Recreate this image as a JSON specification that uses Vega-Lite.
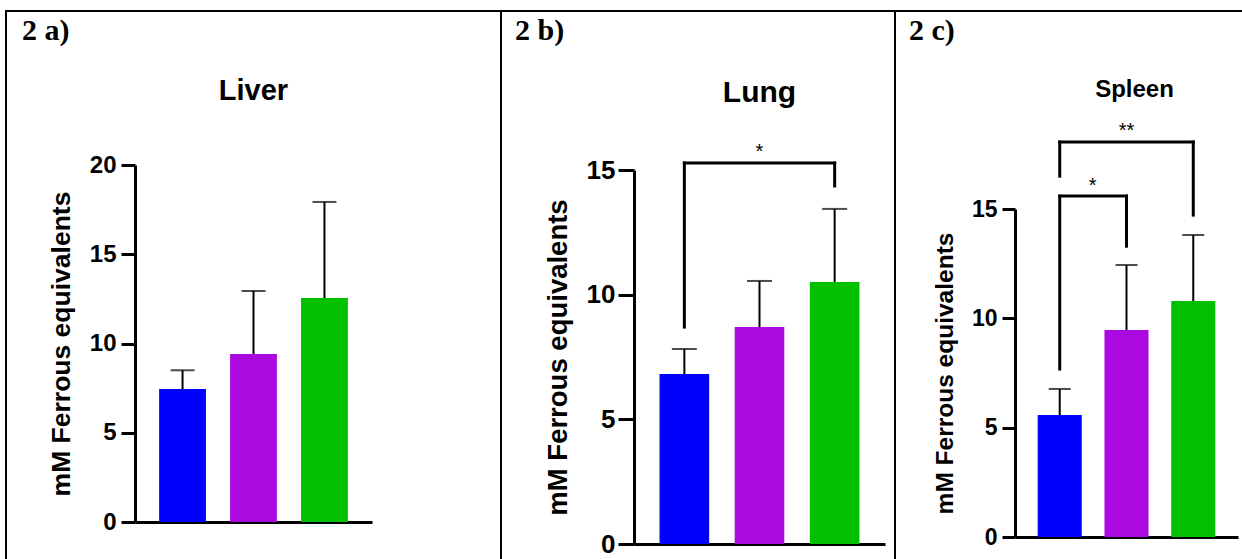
{
  "$schema": "https://vega.github.io/schema/vega-lite/v6.json",
  "padding": {"left": 5, "top": 10, "right": 0, "bottom": 0},
  "spacing": 0,
  "bounds": "flush",
  "background": "white",
  "config": {
    "view": {"stroke": "black", "strokeWidth": 2},
    "axis": {
      "domainColor": "black", "tickColor": "black", "labelColor": "black", "titleColor": "black",
      "domainWidth": 3, "tickWidth": 3, "grid": false,
      "labelFont": "Liberation Sans", "labelFontWeight": "bold",
      "titleFont": "Liberation Sans", "titleFontWeight": "bold",
      "zindex": 1
    },
    "title": {"font": "Liberation Serif", "fontWeight": "bold", "fontSize": 30, "color": "black", "anchor": "start", "frame": "group", "baseline": "alphabetic"}
  },
  "datasets": {
    "liver": [
      {"group": "A", "mean": 7.45, "upper": 8.5},
      {"group": "B", "mean": 9.41, "upper": 12.94},
      {"group": "C", "mean": 12.55, "upper": 17.93}
    ],
    "lung": [
      {"group": "A", "mean": 6.82, "upper": 7.82},
      {"group": "B", "mean": 8.70, "upper": 10.55},
      {"group": "C", "mean": 10.51, "upper": 13.44}
    ],
    "spleen": [
      {"group": "A", "mean": 5.58, "upper": 6.77},
      {"group": "B", "mean": 9.47, "upper": 12.44},
      {"group": "C", "mean": 10.79, "upper": 13.81}
    ],
    "lung_br": [
      {"from": "A", "to": "C", "top": 15.28, "fromEnd": 8.7, "toEnd": 14.36, "sig": "*"}
    ],
    "spleen_br": [
      {"from": "A", "to": "B", "top": 15.59, "fromEnd": 7.68, "toEnd": 13.3, "sig": "*"},
      {"from": "A", "to": "C", "top": 18.06, "fromEnd": 16.5, "toEnd": 14.72, "sig": "**"}
    ]
  },
  "hconcat": [
    {
      "width": 495, "height": 550,
      "title": {"text": "2 a)", "offset": -35, "dx": 16},
      "layer": [
        {
          "data": {"name": "liver"},
          "mark": {"type": "bar"},
          "encoding": {
            "x": {"field": "group", "type": "nominal", "sort": null,
                  "scale": {"range": [129, 366], "paddingInner": 0.34, "paddingOuter": 0.34},
                  "axis": {"orient": "bottom", "offset": -39, "ticks": false, "labels": false, "title": null}},
            "y": {"field": "mean", "type": "quantitative",
                  "scale": {"domain": [0, 20], "range": [511, 154], "nice": false},
                  "axis": {"values": [0, 5, 10, 15, 20], "offset": -129, "tickSize": 14, "labelPadding": 5, "labelFontSize": 24, "labelFontWeight": "bold", "labelFont": "Liberation Sans", "titleFontSize": 26.5, "titleFontWeight": "bold", "titlePadding": 14},
                  "title": "mM Ferrous equivalents"},
            "color": {"field": "group", "type": "nominal", "scale": {"domain": ["A", "B", "C"], "range": ["#0000FF", "#AA0ADF", "#00C000"]}, "legend": null}
          }
        },
        {
          "data": {"name": "liver"},
          "mark": {"type": "rule", "strokeWidth": 2, "color": "black"},
          "encoding": {
            "x": {"field": "group", "type": "nominal", "sort": null},
            "y": {"field": "mean", "type": "quantitative", "title": "mM Ferrous equivalents"},
            "y2": {"field": "upper"}
          }
        },
        {
          "data": {"name": "liver"},
          "mark": {"type": "tick", "size": 24, "thickness": 2, "color": "black"},
          "encoding": {
            "x": {"field": "group", "type": "nominal", "sort": null},
            "y": {"field": "upper", "type": "quantitative", "title": "mM Ferrous equivalents"}
          }
        },
        {
          "data": {"values": [{"t": "Liver"}]},
          "mark": {"type": "text", "font": "Liberation Sans", "fontWeight": "bold", "fontSize": 29, "color": "black", "align": "center", "baseline": "alphabetic"},
          "encoding": {
            "x": {"datum": "B", "type": "nominal"},
            "y": {"value": 89},
            "text": {"field": "t"}
          }
        }
      ]
    },
    {
      "width": 394, "height": 550,
      "title": {"text": "2 b)", "offset": -35, "dx": 14},
      "layer": [
        {
          "data": {"name": "lung"},
          "mark": {"type": "bar"},
          "encoding": {
            "x": {"field": "group", "type": "nominal", "sort": null,
                  "scale": {"range": [133, 384], "paddingInner": 0.34, "paddingOuter": 0.34},
                  "axis": {"orient": "bottom", "offset": -17, "ticks": false, "labels": false, "title": null}},
            "y": {"field": "mean", "type": "quantitative",
                  "scale": {"domain": [0, 15], "range": [533, 159], "nice": false},
                  "axis": {"values": [0, 5, 10, 15], "offset": -133, "tickSize": 16, "labelPadding": 3, "labelFontSize": 26, "labelFontWeight": "bold", "labelFont": "Liberation Sans", "titleFontSize": 27.5, "titleFontWeight": "bold", "titlePadding": 14},
                  "title": "mM Ferrous equivalents"},
            "color": {"field": "group", "type": "nominal", "scale": {"domain": ["A", "B", "C"], "range": ["#0000FF", "#AA0ADF", "#00C000"]}, "legend": null}
          }
        },
        {
          "data": {"name": "lung"},
          "mark": {"type": "rule", "strokeWidth": 2, "color": "black"},
          "encoding": {
            "x": {"field": "group", "type": "nominal", "sort": null},
            "y": {"field": "mean", "type": "quantitative", "title": "mM Ferrous equivalents"},
            "y2": {"field": "upper"}
          }
        },
        {
          "data": {"name": "lung"},
          "mark": {"type": "tick", "size": 25, "thickness": 2, "color": "black"},
          "encoding": {
            "x": {"field": "group", "type": "nominal", "sort": null},
            "y": {"field": "upper", "type": "quantitative", "title": "mM Ferrous equivalents"}
          }
        },
        {
          "data": {"name": "lung_br"},
          "mark": {"type": "rule", "strokeWidth": 3, "color": "black", "strokeCap": "square"},
          "encoding": {
            "x": {"field": "from", "type": "nominal"},
            "x2": {"field": "to"},
            "y": {"field": "top", "type": "quantitative", "title": "mM Ferrous equivalents"}
          }
        },
        {
          "data": {"name": "lung_br"},
          "mark": {"type": "rule", "strokeWidth": 3, "color": "black", "strokeCap": "square"},
          "encoding": {
            "x": {"field": "from", "type": "nominal"},
            "y": {"field": "fromEnd", "type": "quantitative", "title": "mM Ferrous equivalents"},
            "y2": {"field": "top"}
          }
        },
        {
          "data": {"name": "lung_br"},
          "mark": {"type": "rule", "strokeWidth": 3, "color": "black", "strokeCap": "square"},
          "encoding": {
            "x": {"field": "to", "type": "nominal"},
            "y": {"field": "toEnd", "type": "quantitative", "title": "mM Ferrous equivalents"},
            "y2": {"field": "top"}
          }
        },
        {
          "data": {"name": "lung_br"},
          "mark": {"type": "text", "font": "Liberation Sans", "fontSize": 20, "color": "black", "align": "center", "baseline": "alphabetic", "dy": -5},
          "encoding": {
            "x": {"datum": "B", "type": "nominal"},
            "y": {"field": "top", "type": "quantitative", "title": "mM Ferrous equivalents"},
            "text": {"field": "sig"}
          }
        },
        {
          "data": {"values": [{"t": "Lung"}]},
          "mark": {"type": "text", "font": "Liberation Sans", "fontWeight": "bold", "fontSize": 30, "color": "black", "align": "center", "baseline": "alphabetic"},
          "encoding": {
            "x": {"datum": "B", "type": "nominal"},
            "y": {"value": 91},
            "text": {"field": "t"}
          }
        }
      ]
    },
    {
      "width": 349, "height": 550,
      "title": {"text": "2 c)", "offset": -35, "dx": 14},
      "layer": [
        {
          "data": {"name": "spleen"},
          "mark": {"type": "bar"},
          "encoding": {
            "x": {"field": "group", "type": "nominal", "sort": null,
                  "scale": {"range": [120, 343], "paddingInner": 0.34, "paddingOuter": 0.34},
                  "axis": {"orient": "bottom", "offset": -24, "ticks": false, "labels": false, "title": null}},
            "y": {"field": "mean", "type": "quantitative",
                  "scale": {"domain": [0, 15], "range": [526, 198], "nice": false},
                  "axis": {"values": [0, 5, 10, 15], "offset": -120, "tickSize": 13, "labelPadding": 5, "labelFontSize": 23, "labelFontWeight": "bold", "labelFont": "Liberation Sans", "titleFontSize": 24.5, "titleFontWeight": "bold", "titlePadding": 14},
                  "title": "mM Ferrous equivalents"},
            "color": {"field": "group", "type": "nominal", "scale": {"domain": ["A", "B", "C"], "range": ["#0000FF", "#AA0ADF", "#00C000"]}, "legend": null}
          }
        },
        {
          "data": {"name": "spleen"},
          "mark": {"type": "rule", "strokeWidth": 2, "color": "black"},
          "encoding": {
            "x": {"field": "group", "type": "nominal", "sort": null},
            "y": {"field": "mean", "type": "quantitative", "title": "mM Ferrous equivalents"},
            "y2": {"field": "upper"}
          }
        },
        {
          "data": {"name": "spleen"},
          "mark": {"type": "tick", "size": 22, "thickness": 2, "color": "black"},
          "encoding": {
            "x": {"field": "group", "type": "nominal", "sort": null},
            "y": {"field": "upper", "type": "quantitative", "title": "mM Ferrous equivalents"}
          }
        },
        {
          "data": {"name": "spleen_br"},
          "mark": {"type": "rule", "strokeWidth": 3, "color": "black", "strokeCap": "square"},
          "encoding": {
            "x": {"field": "from", "type": "nominal"},
            "x2": {"field": "to"},
            "y": {"field": "top", "type": "quantitative", "title": "mM Ferrous equivalents"}
          }
        },
        {
          "data": {"name": "spleen_br"},
          "mark": {"type": "rule", "strokeWidth": 3, "color": "black", "strokeCap": "square"},
          "encoding": {
            "x": {"field": "from", "type": "nominal"},
            "y": {"field": "fromEnd", "type": "quantitative", "title": "mM Ferrous equivalents"},
            "y2": {"field": "top"}
          }
        },
        {
          "data": {"name": "spleen_br"},
          "mark": {"type": "rule", "strokeWidth": 3, "color": "black", "strokeCap": "square"},
          "encoding": {
            "x": {"field": "to", "type": "nominal"},
            "y": {"field": "toEnd", "type": "quantitative", "title": "mM Ferrous equivalents"},
            "y2": {"field": "top"}
          }
        },
        {
          "data": {"name": "spleen_br"},
          "transform": [{"filter": "datum.to == 'B'"}],
          "mark": {"type": "text", "font": "Liberation Sans", "fontSize": 20, "color": "black", "align": "center", "baseline": "alphabetic", "dy": -4, "dx": 33},
          "encoding": {
            "x": {"field": "from", "type": "nominal"},
            "y": {"field": "top", "type": "quantitative", "title": "mM Ferrous equivalents"},
            "text": {"field": "sig"}
          }
        },
        {
          "data": {"name": "spleen_br"},
          "transform": [{"filter": "datum.to == 'C'"}],
          "mark": {"type": "text", "font": "Liberation Sans", "fontSize": 20, "color": "black", "align": "center", "baseline": "alphabetic", "dy": -5},
          "encoding": {
            "x": {"datum": "B", "type": "nominal"},
            "y": {"field": "top", "type": "quantitative", "title": "mM Ferrous equivalents"},
            "text": {"field": "sig"}
          }
        },
        {
          "data": {"values": [{"t": "Spleen"}]},
          "mark": {"type": "text", "font": "Liberation Sans", "fontWeight": "bold", "fontSize": 24, "color": "black", "align": "center", "baseline": "alphabetic", "dx": 8},
          "encoding": {
            "x": {"datum": "B", "type": "nominal"},
            "y": {"value": 86},
            "text": {"field": "t"}
          }
        }
      ]
    }
  ]
}
